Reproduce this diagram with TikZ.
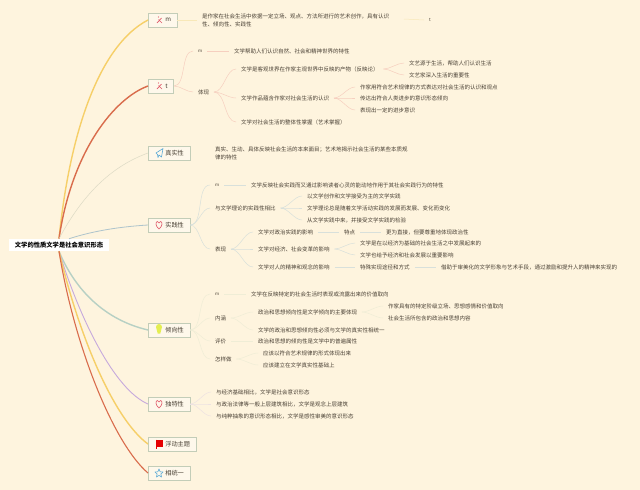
\documentclass[tikz,border=0pt]{standalone}
\usepackage{fontspec}
\setmainfont{Noto Sans CJK SC}
\definecolor{paper}{HTML}{FEF4DE}
\definecolor{ink}{HTML}{4A4135}
\definecolor{boxline}{HTML}{C3CDB8}
\definecolor{linkred}{HTML}{F6CFBF}
\definecolor{linkblue}{HTML}{D8E0DB}
\definecolor{linkgreen}{HTML}{EFEDD6}
\definecolor{linkpurple}{HTML}{EDE2E2}
\definecolor{linkyellow}{HTML}{F8E8B8}
\definecolor{mainyellow}{HTML}{F6CF68}
\definecolor{mainred}{HTML}{D96C4C}
\definecolor{mainblue}{HTML}{AEC4CC}
\definecolor{maingreen}{HTML}{B7D0C4}
\definecolor{mainpurple}{HTML}{C6A9DC}
\definecolor{iconred}{HTML}{E05A6A}
\definecolor{iconblue}{HTML}{5AA9D6}
\tikzset{
  topic/.style={draw=boxline,fill=paper!60!white,line width=0.6pt,anchor=west,inner xsep=6pt,inner ysep=0pt,minimum height=14pt,text=ink,font=\fontsize{6.2}{7}\selectfont,execute at begin node=\hspace*{11pt}},
  leaf/.style={anchor=west,inner sep=0pt,outer sep=5pt,align=left,text=ink,font=\fontsize{5.5}{8}\selectfont},
  tiny/.style={font=\fontsize{4.4}{5}\selectfont},
  main/.style={line width=1.4pt},
  redlink/.style={draw=linkred,line width=0.5pt},
  bluelink/.style={draw=linkblue,line width=0.5pt},
  greenlink/.style={draw=linkgreen,line width=0.5pt},
  purplelink/.style={draw=linkpurple,line width=0.5pt},
  fork/.style={out=0,in=180,looseness=0.8}
}
\begin{document}
\begin{tikzpicture}[x=1pt,y=-1pt]
\fill[paper] (0,0) rectangle (640,490);
\useasboundingbox (0,0) rectangle (640,490);

\node[fill=white,inner xsep=6pt,inner ysep=3pt,text=black,font=\fontsize{6.3}{7}\selectfont\bfseries] (rootnode) at (59,245) {文学的性质文学是社会意识形态};

\node[topic] (tpm) at (148,20) {m};
\node[topic] (tpt) at (148,86) {t};
\node[topic] (tpreal) at (148,153) {真实性};
\node[topic] (tppractice) at (148,225) {实践性};
\node[topic] (tptrend) at (148,330) {倾向性};
\node[topic] (tpunique) at (148,404) {独特性};
\node[topic] (tpfloat) at (148,444) {浮动主题};
\node[topic] (tpunity) at (148,473) {相统一};

\draw[main,draw=mainyellow] (tpm.west) .. controls (100,45) and (70,130) .. (rootnode.north);
\draw[main,draw=mainred] (tpt.west) .. controls (115,98) and (72,150) .. (rootnode.north);
\draw[line width=0.5pt,draw=linkgreen!92!black] (tpreal.west) .. controls (115,165) and (85,190) .. (rootnode.north);
\draw[line width=0.8pt,draw=mainblue] (tppractice.west) .. controls (115,227) and (90,232) .. ([xshift=10pt]rootnode.north);
\draw[main,draw=maingreen] (tptrend.west) .. controls (105,320) and (75,290) .. (rootnode.south);
\draw[line width=0.9pt,draw=mainpurple] (tpunique.west) .. controls (115,390) and (80,320) .. (rootnode.south);
\draw[main,draw=mainyellow] (tpfloat.west) .. controls (115,420) and (80,340) .. (rootnode.south);
\draw[line width=1.1pt,draw=mainred] (tpunity.west) .. controls (115,445) and (75,350) .. (rootnode.south);

\node[leaf] (mdef) at (197,20) {是作家在社会生活中依据一定立场、观点、方法所进行的艺术创作，具有认识\\性、倾向性、实践性};
\node[leaf,tiny] (mnote) at (424,20) {t};
\draw[draw=linkyellow,line width=0.5pt] (tpm.east) -- (mdef.west);
\draw[draw=linkyellow,line width=0.5pt] (404,19) -- (mnote.west);

\node[leaf,tiny] (tm) at (193,51) {m};
\node[leaf] (tbody) at (193,92) {体现};
\node[leaf] (thelp) at (229,51) {文学帮助人们认识自然、社会和精神世界的特性};
\node[leaf] (ta) at (236,69) {文学是客观世界在作家主观世界中反映的产物（反映论）};
\node[leaf] (tb) at (236,98) {文学作品蕴含作家对社会生活的认识};
\node[leaf] (tc) at (236,122) {文学对社会生活的整体性掌握（艺术掌握）};
\node[leaf] (taa) at (404,63) {文艺源于生活，帮助人们认识生活};
\node[leaf] (tab) at (404,75) {文艺家深入生活的重要性};
\node[leaf] (tba) at (355,87) {作家用符合艺术规律的方式表达对社会生活的认识和观点};
\node[leaf] (tbb) at (355,98) {传达出符合人类进步的意识形态倾向};
\node[leaf] (tbc) at (355,110) {表现出一定的进步意识};
\draw[redlink] (tpt.east) to[fork] (tm.west);
\draw[redlink] (tpt.east) to[fork] (tbody.west);
\draw[redlink] (tm.east) -- (thelp.west);
\foreach \n in {ta,tb,tc} \draw[redlink] (tbody.east) to[fork] (\n.west);
\foreach \n in {taa,tab} \draw[redlink] (ta.east) to[fork] (\n.west);
\foreach \n in {tba,tbb,tbc} \draw[redlink] (tb.east) to[fork] (\n.west);

\node[leaf] (rdef) at (210,153) {真实、生动、具体反映社会生活的本来面目；艺术地揭示社会生活的某些本质规\\律的特性};

\node[leaf,tiny] (pm) at (210,185) {m};
\node[leaf] (pcmp) at (210,208) {与文学理论的实践性相比};
\node[leaf] (pshow) at (210,249) {表现};
\node[leaf] (pdef) at (246,185) {文学反映社会实践而又通过影响读者心灵的能动地作用于其社会实践行为的特性};
\node[leaf] (pca) at (302,196) {以文学创作和文学接受为主的文学实践};
\node[leaf] (pcb) at (302,208) {文学理论总是随着文学活动实践的发展而发展、变化而变化};
\node[leaf] (pcc) at (302,220) {从文学实践中来，并接受文学实践的检验};
\node[leaf] (psa) at (253,232) {文学对政治实践的影响};
\node[leaf] (psb) at (253,249) {文学对经济、社会变革的影响};
\node[leaf] (psc) at (253,267) {文学对人的精神和观念的影响};
\node[leaf] (ptrait) at (339,232) {特点};
\node[leaf] (pdirect) at (381,232) {更为直接，但要尊重地体现政治性};
\node[leaf] (pba) at (355,243) {文学是在以经济为基础的社会生活之中发展起来的};
\node[leaf] (pbb) at (355,255) {文学也给予经济和社会发展以重要影响};
\node[leaf] (pway) at (355,267) {特殊实现途径和方式};
\node[leaf] (pspirit) at (436,267) {借助于审美化的文学形象与艺术手段，通过激励和提升人的精神来实现的};
\foreach \n in {pm,pcmp,pshow} \draw[bluelink] (tppractice.east) to[fork] (\n.west);
\draw[bluelink] (pm.east) -- (pdef.west);
\foreach \n in {pca,pcb,pcc} \draw[bluelink] (pcmp.east) to[fork] (\n.west);
\foreach \n in {psa,psb,psc} \draw[bluelink] (pshow.east) to[fork] (\n.west);
\draw[bluelink] (psa.east) -- (ptrait.west);
\draw[bluelink] (ptrait.east) -- (pdirect.west);
\foreach \n in {pba,pbb} \draw[bluelink] (psb.east) to[fork] (\n.west);
\draw[bluelink] (psc.east) -- (pway.west);
\draw[bluelink] (pway.east) -- (pspirit.west);

\node[leaf,tiny] (vm) at (210,294) {m};
\node[leaf] (vin) at (210,318) {内涵};
\node[leaf] (veval) at (210,341) {评价};
\node[leaf] (vhow) at (210,359) {怎样做};
\node[leaf] (vdef) at (246,294) {文学在反映特定的社会生活时表现或流露出来的价值取向};
\node[leaf] (via) at (253,312) {政治和思想倾向性是文学倾向的主要体现};
\node[leaf] (vib) at (253,330) {文学的政治和思想倾向性必须与文学的真实性相统一};
\node[leaf] (viaa) at (383,306) {作家具有的特定阶级立场、思想感情和价值取向};
\node[leaf] (viab) at (383,318) {社会生活所包含的政治和思想内容};
\node[leaf] (vea) at (253,341) {政治和思想的倾向性是文学中的普遍属性};
\node[leaf] (vha) at (258,353) {应该以符合艺术规律的形式体现出来};
\node[leaf] (vhb) at (258,365) {应该建立在文学真实性基础上};
\foreach \n in {vm,vin,veval,vhow} \draw[greenlink] (tptrend.east) to[fork] (\n.west);
\draw[greenlink] (vm.east) -- (vdef.west);
\foreach \n in {via,vib} \draw[greenlink] (vin.east) to[fork] (\n.west);
\foreach \n in {viaa,viab} \draw[greenlink] (via.east) to[fork] (\n.west);
\draw[greenlink] (veval.east) -- (vea.west);
\foreach \n in {vha,vhb} \draw[greenlink] (vhow.east) to[fork] (\n.west);

\node[leaf] (ua) at (211,392) {与经济基础相比，文学是社会意识形态};
\node[leaf] (ub) at (211,404) {与政治法律等一般上层建筑相比，文学是观念上层建筑};
\node[leaf] (uc) at (211,416) {与纯粹抽象的意识形态相比，文学是感性审美的意识形态};
\foreach \n in {ua,ub,uc} \draw[purplelink] (tpunique.east) to[fork] (\n.west);

\foreach \hy in {20,86} {
  \draw[iconred,line width=0.7pt] (157,\hy+3) -- (161.5,\hy-2) (158.5,\hy-0.5) -- (162,\hy+3);
  \fill[iconred] (158.5,\hy-3) circle (0.7pt);
}
\foreach \hy in {225,404}
  \draw[iconred,line width=0.6pt] (159,\hy+4) .. controls (155,\hy+1) and (155.5,\hy-3.5) .. (157.5,\hy-3.5) .. controls (158.3,\hy-3.5) and (159,\hy-2.8) .. (159,\hy-2) .. controls (159,\hy-2.8) and (159.7,\hy-3.5) .. (160.5,\hy-3.5) .. controls (162.5,\hy-3.5) and (163,\hy+1) .. (159,\hy+4) -- cycle;
\draw[iconblue,line width=0.6pt,line join=round] (156,153) -- (163,148.5) -- (161.5,157) -- (159,155) -- (158,157.5) -- (157.5,154.5) -- cycle;
\fill[yellow!85!green!70!white] (159,327) ++(-3,0) arc (180:0:3 and -3) -- (160.3,333.5) -- (157.7,333.5) -- cycle;
\fill[red!90!black] (156,439.5) rectangle (163,446.5);
\draw[red!90!black,line width=0.5pt] (156,439.5) -- (156,449);
\draw[iconblue,line width=0.6pt,line join=round] (159,469) -- (160.2,471.8) -- (163,472) -- (160.9,474) -- (161.5,477) -- (159,475.4) -- (156.5,477) -- (157.1,474) -- (155,472) -- (157.8,471.8) -- cycle;
\end{tikzpicture}
\end{document}
